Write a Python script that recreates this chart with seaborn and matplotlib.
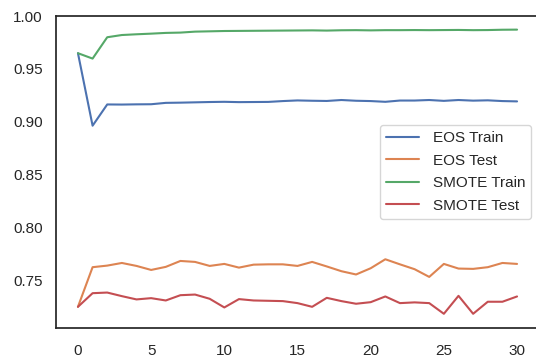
import matplotlib
matplotlib.use("Agg")
import matplotlib.pyplot as plt
import seaborn as sns
import pandas as pd

epochs = list(range(31))
eos_train = [0.9648, 0.8962, 0.9163, 0.9162, 0.9164, 0.9165, 0.9178, 0.9180, 0.9183, 0.9186,
             0.9188, 0.9185, 0.9186, 0.9187, 0.9195, 0.9201, 0.9198, 0.9196, 0.9205, 0.9198,
             0.9195, 0.9188, 0.9200, 0.9200, 0.9205, 0.9197, 0.9205, 0.9199, 0.9202, 0.9195, 0.9192]
eos_test = [0.7248, 0.7623, 0.7638, 0.7663, 0.7635, 0.7597, 0.7626, 0.7682, 0.7673, 0.7635,
            0.7654, 0.7619, 0.7647, 0.7650, 0.7650, 0.7635, 0.7673, 0.7630, 0.7585, 0.7554,
            0.7613, 0.7698, 0.7650, 0.7604, 0.7531, 0.7654, 0.7610, 0.7607, 0.7623, 0.7663, 0.7654]
smote_train = [0.9648, 0.9597, 0.9799, 0.9820, 0.9827, 0.9833, 0.9840, 0.9843, 0.9852, 0.9855,
               0.9858, 0.9859, 0.9860, 0.9861, 0.9862, 0.9863, 0.9864, 0.9862, 0.9865, 0.9866,
               0.9864, 0.9866, 0.9866, 0.9867, 0.9866, 0.9867, 0.9868, 0.9866, 0.9867, 0.9870, 0.9871]
smote_test = [0.7248, 0.7377, 0.7383, 0.7349, 0.7318, 0.7330, 0.7308, 0.7358, 0.7364, 0.7324,
              0.7242, 0.7321, 0.7308, 0.7305, 0.7302, 0.7283, 0.7248, 0.7333, 0.7302, 0.7277,
              0.7292, 0.7346, 0.7283, 0.7290, 0.7283, 0.7182, 0.7352, 0.7182, 0.7296, 0.7296, 0.7346]
series_names = ["EOS Train", "EOS Test", "SMOTE Train", "SMOTE Test"]

sns.set_theme(style="white", context="notebook")
plt.rcParams['font.family'] = ['Liberation Sans', 'DejaVu Sans']

df = pd.DataFrame({
    "epoch": epochs * 4,
    "value": eos_train + eos_test + smote_train + smote_test,
    "series": sum([[n] * len(epochs) for n in series_names], []),
})

fig = plt.figure(figsize=(5.36, 3.58), dpi=100)
ax = fig.add_axes([56 / 536, 1 - 328 / 358, (539 - 56) / 536, (328 - 16) / 358])
sns.lineplot(data=df, x="epoch", y="value", hue="series", ax=ax, linewidth=1.5)
ax.set_xlabel("")
ax.set_ylabel("")
ax.set_ylim(top=1.0)
ax.set_xticks([0, 5, 10, 15, 20, 25, 30])
ax.tick_params(axis="x", pad=5.5)
ax.legend(loc="center right", title=None, handlelength=2.2, handletextpad=0.87,
          labelspacing=0.55)
fig.savefig("out.png", dpi=100)
